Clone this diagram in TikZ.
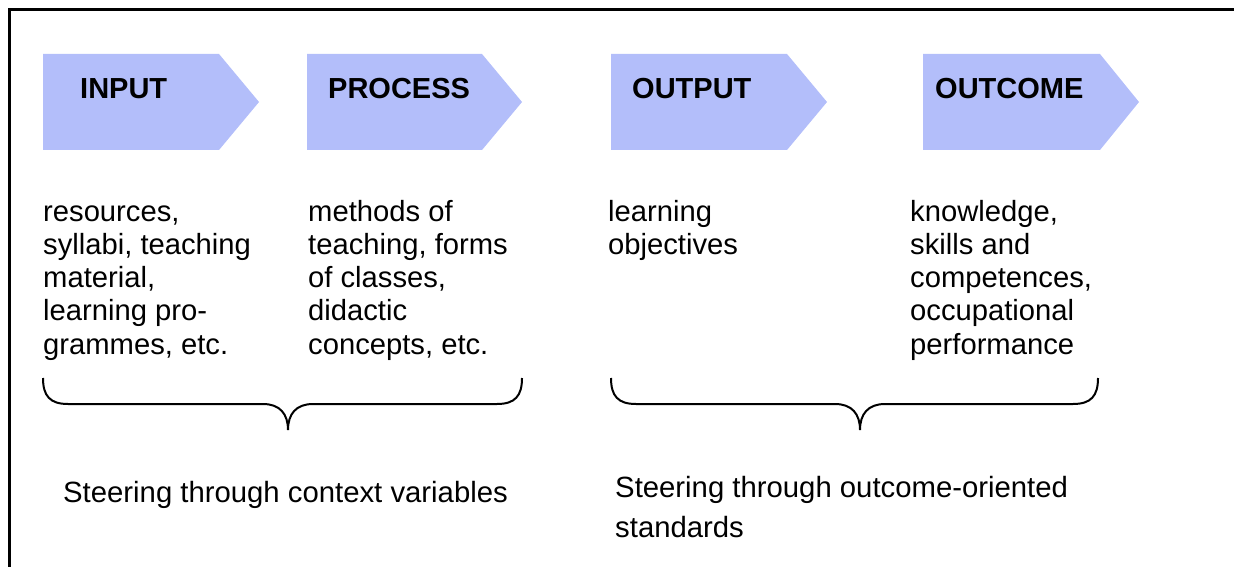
\documentclass[tikz,border=0pt]{standalone}
\usepackage{fontspec}
\setmainfont{Liberation Sans}
\definecolor{arrowfill}{RGB}{179,190,250}
\tikzset{
  stage/.style={fill=arrowfill, draw=none},
  head/.style={anchor=base west, inner sep=0pt, font=\fontsize{29}{33}\selectfont\bfseries},
  body/.style={anchor=base west, inner sep=0pt, align=left, font=\fontsize{29.2}{33.3}\selectfont},
  steer/.style={anchor=base west, inner sep=0pt, align=left, font=\fontsize{29.3}{40}\selectfont},
  brace/.style={line width=2pt, draw=black},
}
\begin{document}
\begin{tikzpicture}[x=1pt,y=-1pt]
\useasboundingbox (0,0) rectangle (1234,567);
% frame (extends beyond the visible area on right and bottom)
\draw[line width=3pt] (9.5,600) -- (9.5,9.5) -- (1260,9.5);
% stage arrows
\foreach \xa/\xb/\xc in {43/219/259, 307/482/522, 611/787/827, 923/1100/1139}{
  \path[stage] (\xa,54) -- (\xb,54) -- (\xc,102) -- (\xb,150) -- (\xa,150) -- cycle;
}
\node[head] (hin) at (80,99) {INPUT};
\node[head] (hpr) at (328,99) {PROCESS};
\node[head] (hout) at (632,99) {OUTPUT};
\node[head] (hoc) at (935,99) {OUTCOME};
% descriptions (base anchor = baseline of the last line)
\node[body] (bin) at (43,354.2) {resources,\\syllabi, teaching\\material,\\learning pro-\\grammes, etc.};
\node[body] (bpr) at (308,354.2) {methods of\\teaching, forms\\of classes,\\didactic\\concepts, etc.};
\node[body] (bout) at (608,254.3) {learning\\objectives};
\node[body] (boc) at (910,354.2) {knowledge,\\skills and\\competences,\\occupational\\performance};
% braces
\draw[brace] (43,378) .. controls (43,396) and (50,404) .. (68,404) -- (263,404)
  .. controls (280,404) and (288,414) .. (288,430)
  .. controls (288,414) and (296,404) .. (313,404) -- (497,404)
  .. controls (515,404) and (522,396) .. (522,378);
\draw[brace] (611,378) .. controls (611,396) and (618,404) .. (636,404) -- (835,404)
  .. controls (852,404) and (860,414) .. (860,430)
  .. controls (860,414) and (868,404) .. (885,404) -- (1073,404)
  .. controls (1091,404) and (1098,396) .. (1098,378);
% steering labels
\node[steer] (s1) at (63,502) {Steering through context variables};
\node[steer] (s2) at (615,537) {Steering through outcome-oriented\\standards};
\end{tikzpicture}
\end{document}
